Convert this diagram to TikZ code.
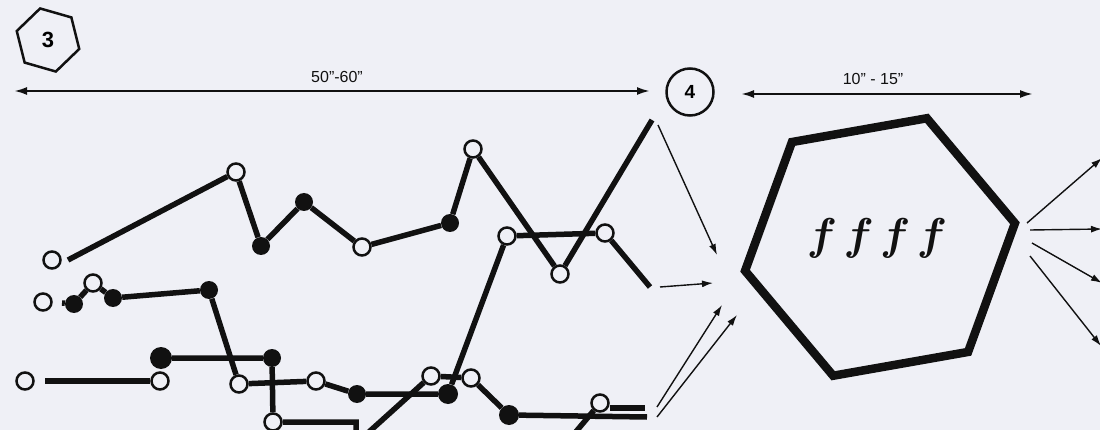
\documentclass[tikz,border=0pt]{standalone}
\usepackage{fontspec}
\usepackage{bm}
\usepackage{graphicx}
\setsansfont{Liberation Sans}
\usetikzlibrary{arrows.meta, shapes.geometric}
\definecolor{paper}{RGB}{239,240,246}
\definecolor{ink}{RGB}{17,17,17}

\begin{document}
\begin{tikzpicture}[x=1pt, y=-1pt, >=Latex,
    wire/.style={line width=5.5pt, draw=ink},
    hollowpt/.style={circle, draw=ink, fill=paper, line width=2.5pt, minimum size=17pt, inner sep=0pt},
    fullpt/.style={circle, fill=ink, minimum size=18pt, inner sep=0pt},
    feed/.style={-{Latex[length=11pt,width=7pt]}, line width=1.4pt, draw=ink},
    span/.style={{Latex[length=13pt,width=8pt]}-{Latex[length=13pt,width=8pt]}, line width=2.2pt, draw=ink},
    dimlabel/.style={font=\sffamily\fontsize{16}{16}\selectfont, text=ink}]
    \fill[paper] (0,0) rectangle (1100,430);
    \useasboundingbox (0,0) rectangle (1100,430);
    \clip (0,0) rectangle (1100,430);

    % Marken
    \node[regular polygon, regular polygon sides=6, shape border rotate=-16, draw=ink, line width=2.5pt,
          minimum size=65pt, inner sep=0pt, font=\sffamily\bfseries\fontsize{22}{22}\selectfont] (three) at (48,40) {3};
    \node[circle, draw=ink, line width=2.5pt, minimum size=47pt, inner sep=0pt,
          font=\sffamily\bfseries\fontsize{19}{19}\selectfont] (four) at (690,92) {4};

    % Masse
    \coordinate (w1) at (14,91);
    \coordinate (w2) at (650,91);
    \draw[span] (w1) -- (w2);
    \node[dimlabel] (lab1) at (337,77) {50”-60”};
    \coordinate (w3) at (741,94);
    \coordinate (w4) at (1033,94);
    \draw[span] (w3) -- (w4);
    \node[dimlabel] (lab2) at (873,79) {10” - 15”};

    % Strang a
    \node[hollowpt] (a0) at (52,260) {};
    \coordinate (a1) at (68,260);
    \node[hollowpt] (a2) at (236,172) {};
    \node[fullpt] (a3) at (261,246) {};
    \node[fullpt] (a4) at (304,202) {};
    \node[hollowpt] (a5) at (362,247) {};
    \node[fullpt] (a6) at (450,223) {};
    \node[hollowpt] (a7) at (473,149) {};
    \node[hollowpt] (a8) at (560,274) {};
    \coordinate (a9) at (652,120);
    \draw[wire] (a1) -- (a2) -- (a3) -- (a4) -- (a5) -- (a6) -- (a7) -- (a8) -- (a9);

    % Strang b
    \node[hollowpt] (b0) at (43,302) {};
    \coordinate (b1) at (62,303);
    \node[fullpt] (b2) at (74,304) {};
    \node[hollowpt] (b3) at (93,283) {};
    \node[fullpt] (b4) at (113,298) {};
    \node[fullpt] (b5) at (209,290) {};
    \node[hollowpt] (b6) at (239,384) {};
    \node[hollowpt] (b7) at (316,381) {};
    \node[fullpt] (b8) at (357,394) {};
    \node[fullpt, minimum size=20pt] (b9) at (448,394) {};
    \node[hollowpt] (b10) at (507,236) {};
    \node[hollowpt] (b11) at (605,233) {};
    \coordinate (b12) at (650,287);
    \draw[wire] (b1) -- (b2) -- (b3) -- (b4) -- (b5) -- (b6) -- (b7) -- (b8) -- (b9) -- (b10) -- (b11) -- (b12);

    % Strang c
    \node[fullpt, minimum size=22pt] (c3) at (161,358) {};
    \node[hollowpt] (c0) at (25,381) {};
    \coordinate (c1) at (45,381);
    \node[hollowpt] (c2) at (160,381) {};
    \node[fullpt] (c4) at (272,358) {};
    \node[hollowpt] (c5) at (273,422) {};
    \coordinate (c6) at (356,422);
    \coordinate (c7) at (356,440);
    \draw[wire] (c1) -- (c2);
    \draw[wire] (c3) -- (c4) -- (c5) -- (c6) -- (c7);

    % Strang d
    \coordinate (d0) at (360,440);
    \node[hollowpt] (d1) at (431,376) {};
    \node[hollowpt] (d2) at (471,378) {};
    \node[fullpt, minimum size=20pt] (d3) at (509,415) {};
    \coordinate (d4) at (647,417);
    \draw[wire] (d0) -- (d1) -- (d2) -- (d3) -- (d4);

    % Strang e
    \coordinate (e0) at (569,440);
    \node[hollowpt] (e1) at (600,403) {};
    \coordinate (e3) at (645,408);
    \draw[wire] (e0) -- (e1);
    \draw[wire] (e1.east |- e3) -- (e3);

    % Zulauf
    \coordinate (s1) at (658,125);
    \coordinate (t1) at (717,255);
    \coordinate (s2) at (660,287);
    \coordinate (t2) at (713,283);
    \coordinate (s3) at (657,407);
    \coordinate (t3) at (722,305);
    \coordinate (s4) at (657,417);
    \coordinate (t4) at (737,315);
    \draw[feed] (s1) -- (t1);
    \draw[feed] (s2) -- (t2);
    \draw[feed] (s3) -- (t3);
    \draw[feed] (s4) -- (t4);

    % Block
    \node[regular polygon, regular polygon sides=6, shape border rotate=10, draw=ink, line width=8.5pt,
          minimum size=274pt, inner sep=0pt] (hx) at (880,247) {};
    \node[text=ink] (fx) at (877,238)
          {\scalebox{2.15}{\fontsize{20}{20}\selectfont$\bm{f}\kern3pt\bm{f}\kern3pt\bm{f}\kern3pt\bm{f}$}};

    % Ablauf
    \coordinate (u1) at (1027,223);
    \coordinate (v1) at (1102,158);
    \coordinate (u2) at (1030,230);
    \coordinate (v2) at (1102,229);
    \coordinate (u3) at (1032,243);
    \coordinate (v3) at (1102,283);
    \coordinate (u4) at (1030,256);
    \coordinate (v4) at (1101,346);
    \draw[feed] (u1) -- (v1);
    \draw[feed] (u2) -- (v2);
    \draw[feed] (u3) -- (v3);
    \draw[feed] (u4) -- (v4);
\end{tikzpicture}
\end{document}
